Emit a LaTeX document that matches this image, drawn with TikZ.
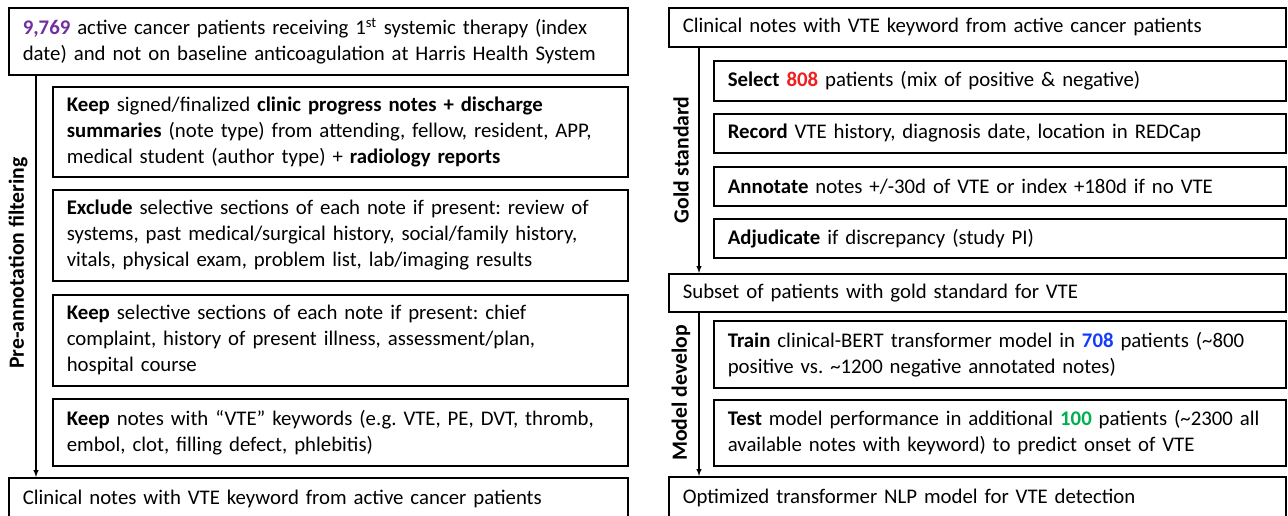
\documentclass[tikz,border=0pt]{standalone}
\usepackage{fontspec}
\setmainfont{Carlito}
\usetikzlibrary{arrows}
\definecolor{numpurple}{RGB}{112,48,160}
\definecolor{numred}{RGB}{240,30,30}
\definecolor{numblue}{RGB}{20,60,255}
\definecolor{numgreen}{RGB}{0,176,80}

\begin{document}
\frenchspacing
\begin{tikzpicture}[x=1pt,y=-1pt,
    box/.style={draw,line width=1.6pt,anchor=north west,align=left,
      inner xsep=14pt,inner ysep=0pt,font=\fontsize{20.8}{26}\selectfont},
    wide/.style={box,text width=591pt},
    sub/.style={box,text width=547pt},
    conn/.style={line width=1.4pt,-latex},
    side/.style={rotate=90,font=\fontsize{21.7}{24}\selectfont\bfseries}]
        \useasboundingbox (0,0) rectangle (1288,515);
        \def\lx{36} \def\rx{699}
        \coordinate (lline) at (\lx,0);
        \coordinate (rline) at (\rx,0);

        % pre-annotation filtering
        \node[wide,minimum height=67pt] (cohort) at (8,7)
          {\textbf{\textcolor{numpurple}{9,769}} active cancer patients receiving 1\textsuperscript{st} systemic therapy (index\\
           date) and not on baseline anticoagulation at Harris Health System};
        \node[sub,minimum height=90pt] (keeptype) at (52,86)
          {\textbf{Keep} signed/finalized \textbf{clinic progress notes + discharge}\\
           \textbf{summaries} (note type) from attending, fellow, resident, APP,\\
           medical student (author type) + \textbf{radiology reports}};
        \node[sub,minimum height=91pt] (exclude) at (52,189)
          {\textbf{Exclude} selective sections of each note if present: review of\\
           systems, past medical/surgical history, social/family history,\\
           vitals, physical exam, problem list, lab/imaging results};
        \node[sub,minimum height=91pt] (keepsect) at (52,294)
          {\textbf{Keep} selective sections of each note if present: chief\\
           complaint, history of present illness, assessment/plan,\\
           hospital course};
        \node[sub,minimum height=67pt] (keepkw) at (52,398)
          {\textbf{Keep} notes with “VTE” keywords (e.g. VTE, PE, DVT, thromb,\\
           embol, clot, filling defect, phlebitis)};
        \node[wide,minimum height=42pt] (kwnotes) at (8,477)
          {Clinical notes with VTE keyword from active cancer patients};

        \draw[conn] (cohort.south -| lline) -- (kwnotes.north -| lline);
        \node[side] (prefilter) at (18,263) {Pre-annotation filtering};

        % gold standard
        \node[box,text width=589pt,minimum height=39pt] (notes) at (668,7)
          {Clinical notes with VTE keyword from active cancer patients};
        \node[box,text width=544pt,minimum height=40pt] (select) at (713,60)
          {\textbf{Select \textcolor{numred}{808}} patients (mix of positive \& negative)};
        \node[box,text width=544pt,minimum height=39pt] (record) at (713,113)
          {\textbf{Record} VTE history, diagnosis date, location in REDCap};
        \node[box,text width=544pt,minimum height=39pt] (annotate) at (713,166)
          {\textbf{Annotate} notes +/-30d of VTE or index +180d if no VTE};
        \node[box,text width=544pt,minimum height=39pt] (adjud) at (713,218)
          {\textbf{Adjudicate} if discrepancy (study PI)};
        \node[box,text width=589pt,minimum height=38pt] (subset) at (668,273)
          {Subset of patients with gold standard for VTE};

        \draw[conn] (notes.south -| rline) -- (subset.north -| rline);
        \node[side] (gold) at (681,160) {Gold standard};

        % model develop
        \node[box,text width=544pt,minimum height=67pt] (train) at (713,320)
          {\textbf{Train} clinical-BERT transformer model in \textbf{\textcolor{numblue}{708}} patients (\textasciitilde800\\
           positive vs. \textasciitilde1200 negative annotated notes)};
        \node[box,text width=544pt,minimum height=66pt] (test) at (713,399)
          {\textbf{Test} model performance in additional \textbf{\textcolor{numgreen}{100}} patients (\textasciitilde2300 all\\
           available notes with keyword) to predict onset of VTE};
        \node[box,text width=589pt,minimum height=42pt] (model) at (668,476)
          {Optimized transformer NLP model for VTE detection};

        \draw[conn] (subset.south -| rline) -- (model.north -| rline);
        \node[side] (develop) at (681,393) {Model develop};
      \end{tikzpicture}
\end{document}
